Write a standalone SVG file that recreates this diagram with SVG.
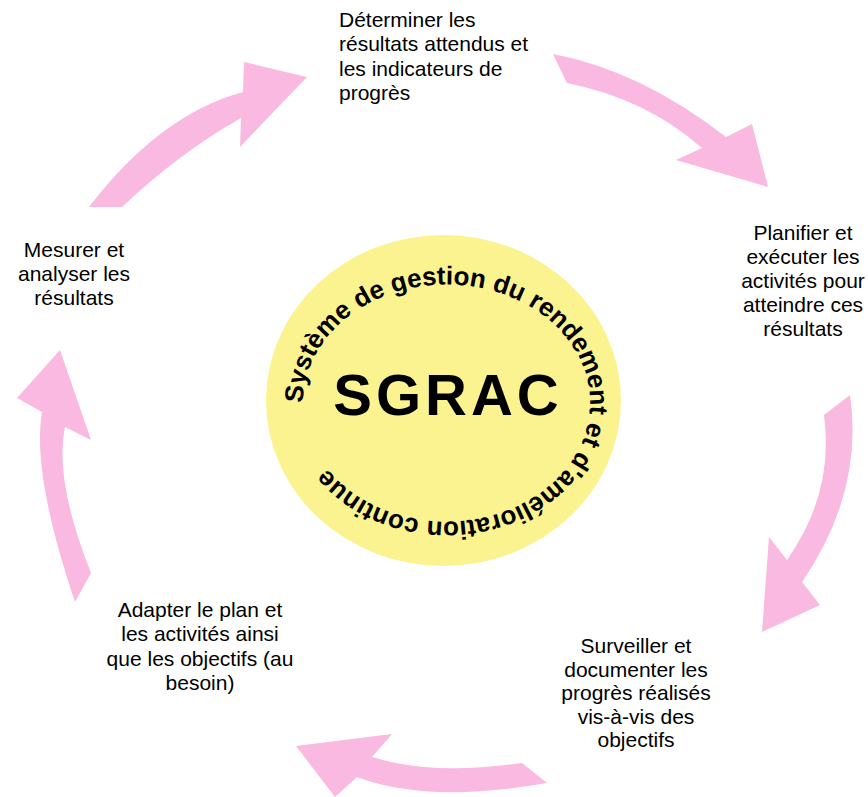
<svg xmlns="http://www.w3.org/2000/svg" xmlns:xlink="http://www.w3.org/1999/xlink" width="868" height="797" viewBox="0 0 868 797">
<style>
.lbl{font-family:"Liberation Sans",Arial,sans-serif;font-size:21px;fill:#000}
.c{text-anchor:middle}
.arrow{fill:#F9B9E0;stroke:none}
.ring{font-family:"Liberation Sans",Arial,sans-serif;font-size:26px;font-weight:bold;fill:#000}
.big{font-family:"Liberation Sans",Arial,sans-serif;font-size:58px;font-weight:bold;letter-spacing:4px;fill:#000;text-anchor:middle}
</style>
<defs>
<path id="ringPath" d="M303,403 A143.5,118.5 0 1,1 590,403 A143.5,118.5 0 1,1 303,403"/>
</defs>
<rect width="868" height="797" fill="#fff"/>
<g id="connectors">
<path class="arrow" d="M553,54 Q640.5,70.5 726,137 L752,124 L768,187 L676,160 L702,148 Q645.5,98.5 567,83 Z"/>
<path class="arrow" d="M850,395 Q864,491.5 802,582 L820,605 L762,632 L769,537 L787,560 Q834.5,492.5 824,415 Z"/>
<path class="arrow" d="M522,763 Q433,776 372,757 L392,734 L296,746 L335,797 L357,777 Q428,804 547,783 Z"/>
<path class="arrow" d="M91,573 Q54,480 65,427 L91,440 L60,350 L17,398 L42,412 Q31.5,473 75,602 Z"/>
<path class="arrow" d="M89,207 Q160,114.5 243,92 L244,62 L307,77 L240,147 L241,118 Q178.5,153.5 122,207 Z"/>
</g>
<g id="center">
<ellipse cx="443.5" cy="400.5" rx="177.5" ry="165.5" fill="#FBF38F"/>
<text class="ring"><textPath xlink:href="#ringPath" href="#ringPath">Système de gestion du rendement et d'amélioration continue</textPath></text>
<text class="big" x="448" y="415">SGRAC</text>
</g>
<g id="step1">
<text class="lbl" x="339" y="27"><tspan x="339">Déterminer les</tspan><tspan x="339" dy="24.3">résultats attendus et</tspan><tspan x="339" dy="24.3">les indicateurs de</tspan><tspan x="339" dy="24.3">progrès</tspan></text>
</g>
<g id="step2">
<text class="lbl c" y="239.5"><tspan x="803">Planifier et</tspan><tspan x="803" dy="24.1">exécuter les</tspan><tspan x="803" dy="24.1">activités pour</tspan><tspan x="803" dy="24.1">atteindre ces</tspan><tspan x="803" dy="24.1">résultats</tspan></text>
</g>
<g id="step3">
<text class="lbl c" y="653"><tspan x="636">Surveiller et</tspan><tspan x="636" dy="23.6">documenter les</tspan><tspan x="636" dy="23.6">progrès réalisés</tspan><tspan x="636" dy="23.6">vis-à-vis des</tspan><tspan x="636" dy="23.6">objectifs</tspan></text>
</g>
<g id="step4">
<text class="lbl c" y="617"><tspan x="200">Adapter le plan et</tspan><tspan x="200" dy="24.3">les activités ainsi</tspan><tspan x="200" dy="24.3">que les objectifs (au</tspan><tspan x="200" dy="24.3">besoin)</tspan></text>
</g>
<g id="step5">
<text class="lbl c" y="257"><tspan x="74">Mesurer et</tspan><tspan x="74" dy="24">analyser les</tspan><tspan x="74" dy="24">résultats</tspan></text>
</g>
</svg>
